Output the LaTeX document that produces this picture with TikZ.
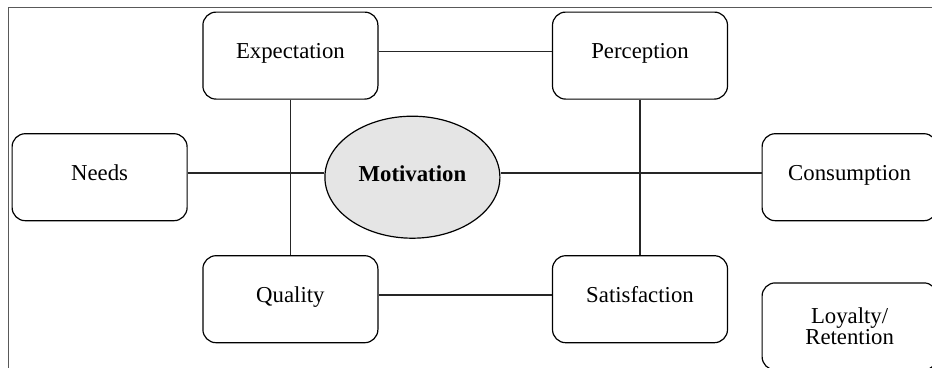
\documentclass[tikz,border=0pt]{standalone}
\usepackage{fontspec}
\setmainfont{Liberation Serif}
\usetikzlibrary{shapes.geometric}
\begin{document}
\begin{tikzpicture}[
		card/.style={draw=black, line width=0.85pt, rounded corners=0.33cm, minimum width=4.375cm, minimum height=2.175cm, inner sep=0pt, font=\fontsize{16.2pt}{13.5pt}\selectfont},
		cardtext/.style={card, text height=1.1625cm, text depth=1.0125cm},
		link/.style={draw=black!85, line width=1.1pt},
	]
		\useasboundingbox (0.00,0.00) rectangle (23.30,-9.175);
		\clip (0.00,0.00) rectangle (23.30,-9.175);
		\draw[draw=black!65, line width=0.7pt] (0.21,-0.19) rectangle (23.80,-9.60);
		\node[cardtext] (expect) at (7.26,-1.39) {Expectation};
		\node[cardtext] (percept) at (16.00,-1.39) {Perception};
		\node[cardtext] (needs) at (2.49,-4.43) {Needs};
		\node[cardtext] (consume) at (21.24,-4.43) {Consumption};
		\node[cardtext] (quality) at (7.26,-7.48) {Quality};
		\node[cardtext] (satisf) at (16.00,-7.48) {Satisfaction};
		\node[card, align=center] (loyal) at (21.24,-8.16) {Loyalty/\\Retention};
		\draw[link] ([yshift=0.1cm]expect.mid east) -- ([yshift=0.1cm]percept.mid west);
		\draw[link] ([yshift=0.1cm]quality.mid east) -- ([yshift=0.1cm]satisf.mid west);
		\draw[link] (expect.south) -- (quality.north);
		\draw[link] (percept.south) -- (satisf.north);
		\node[ellipse, draw=black, line width=0.85pt, fill=black!10, minimum width=4.375cm, minimum height=3.05cm, inner sep=0pt, text height=0.50cm, text depth=0.265cm, font=\fontsize{16.2pt}{13.5pt}\selectfont\bfseries] (motiv) at (10.31,-4.43) {Motivation};
		\draw[link] ([yshift=0.1cm]needs.mid east) -- ([yshift=0.1cm]needs.mid east -| motiv.west);
		\draw[link] ([yshift=0.1cm]consume.mid west -| motiv.east) -- ([yshift=0.1cm]consume.mid west);
	\end{tikzpicture}
\end{document}
